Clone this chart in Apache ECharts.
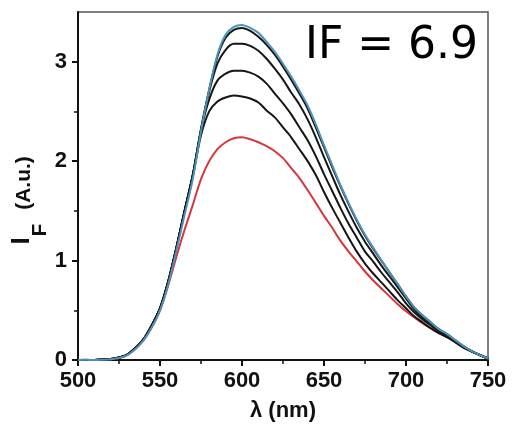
<!DOCTYPE html>
<html>
<head>
<meta charset="utf-8">
<script src="https://cdn.jsdelivr.net/npm/echarts@6/dist/echarts.min.js"></script>
<style>
  html, body { margin: 0; padding: 0; background: #fff; }
  #grafico { width: 512px; height: 427px; }
</style>
</head>
<body>
<div id="grafico"></div>
<script>
// wavelength (nm), every 5 nm
var lambda = [500, 505, 510, 515, 520, 525, 530, 535, 540, 545, 550, 555, 560, 565, 570, 575, 580, 585, 590, 595,
    600, 605, 610, 615, 620, 625, 630, 635, 640, 645, 650, 655, 660, 665, 670, 675, 680, 685, 690, 695,
    700, 705, 710, 715, 720, 725, 730, 735, 740, 745, 750];

var curvaVermelha = [0, 0.002, 0, 0.003, 0.008, 0.02, 0.05, 0.11, 0.2, 0.33, 0.5, 0.75, 1.04, 1.31, 1.56, 1.82, 2.0, 2.12, 2.19, 2.23,
    2.24, 2.22, 2.19, 2.15, 2.1, 2.03, 1.93, 1.83, 1.71, 1.58, 1.45, 1.33, 1.2, 1.09, 0.99, 0.89, 0.8, 0.72, 0.64, 0.56,
    0.49, 0.43, 0.37, 0.32, 0.27, 0.23, 0.18, 0.13, 0.09, 0.05, 0.015];

var curvaPreta3 = [0, 0.001, 0.001, 0.004, 0.01, 0.025, 0.055, 0.12, 0.21, 0.35, 0.52, 0.79, 1.13, 1.5, 1.85, 2.26, 2.5, 2.6, 2.64, 2.66,
    2.65, 2.63, 2.59, 2.51, 2.44, 2.34, 2.24, 2.12, 2.0, 1.86, 1.69, 1.53, 1.38, 1.23, 1.09, 0.97, 0.87, 0.78, 0.69, 0.6,
    0.52, 0.44, 0.38, 0.32, 0.27, 0.23, 0.18, 0.125, 0.085, 0.05, 0.015];

var curvaPreta2 = [0, 0.001, 0.001, 0.004, 0.01, 0.025, 0.055, 0.12, 0.21, 0.35, 0.52, 0.79, 1.13, 1.5, 1.86, 2.31, 2.62, 2.81, 2.88, 2.91,
    2.91, 2.89, 2.85, 2.78, 2.68, 2.58, 2.47, 2.34, 2.21, 2.05, 1.87, 1.7, 1.53, 1.37, 1.23, 1.09, 0.99, 0.88, 0.78, 0.68,
    0.57, 0.48, 0.41, 0.35, 0.29, 0.24, 0.185, 0.13, 0.087, 0.05, 0.015];

var curvaPreta1 = [0, 0.001, 0.001, 0.004, 0.01, 0.025, 0.055, 0.12, 0.21, 0.35, 0.52, 0.79, 1.13, 1.5, 1.86, 2.32, 2.7, 2.98, 3.12, 3.18,
    3.18, 3.16, 3.11, 3.03, 2.93, 2.82, 2.69, 2.57, 2.42, 2.24, 2.04, 1.85, 1.66, 1.49, 1.33, 1.19, 1.07, 0.95, 0.84, 0.73,
    0.62, 0.51, 0.43, 0.37, 0.3, 0.25, 0.19, 0.135, 0.088, 0.05, 0.015];

var curvaPreta0 = [0, 0.001, 0.001, 0.004, 0.01, 0.025, 0.055, 0.12, 0.21, 0.35, 0.52, 0.79, 1.13, 1.5, 1.86, 2.32, 2.72, 3.05, 3.24, 3.32,
    3.34, 3.31, 3.25, 3.17, 3.07, 2.95, 2.82, 2.68, 2.53, 2.34, 2.14, 1.94, 1.75, 1.57, 1.4, 1.25, 1.12, 1.0, 0.88, 0.76,
    0.64, 0.53, 0.45, 0.38, 0.31, 0.26, 0.2, 0.14, 0.09, 0.05, 0.015];

var curvaAzul = [0, 0.002, 0, 0.003, 0.008, 0.02, 0.05, 0.11, 0.2, 0.33, 0.5, 0.76, 1.1, 1.46, 1.82, 2.3, 2.72, 3.07, 3.27, 3.35,
    3.37, 3.34, 3.29, 3.2, 3.1, 2.98, 2.85, 2.71, 2.56, 2.37, 2.16, 1.96, 1.76, 1.58, 1.41, 1.26, 1.13, 1.0, 0.88, 0.76,
    0.64, 0.53, 0.45, 0.38, 0.31, 0.26, 0.2, 0.14, 0.09, 0.05, 0.015];

var ticksX = [500, 550, 600, 650, 700, 750];
var ticksY = [0, 1, 2, 3];
var ticksYmenores = [0.5, 1.5, 2.5];

function pares(valores) {
    var out = [];
    lambda.forEach(function (l, i) { out.push([l, valores[i]]); });
    return out;
}

var myChart = echarts.init(document.getElementById('grafico'));

var series_grafico = [];
var curvas = [
    { dados: curvaVermelha, cor: '#d8343c' },
    { dados: curvaPreta3, cor: '#161616' },
    { dados: curvaPreta2, cor: '#161616' },
    { dados: curvaPreta1, cor: '#161616' },
    { dados: curvaPreta0, cor: '#161616' },
    { dados: curvaAzul, cor: '#4b93bd' }
];
curvas.forEach(function (c) {
    series_grafico.push({
        type: 'line',
        showSymbol: false,
        smooth: 0.3,
        lineStyle: { color: c.cor, width: 2 },
        data: pares(c.dados)
    });
});

var fonteEixo = { fontFamily: 'Liberation Sans, Arial, sans-serif', fontWeight: 'bold', fontSize: 22, color: '#111' };

var option = {
    animation: false,
    grid: { left: 78, right: 24, top: 12, bottom: 67, show: true, borderColor: '#555', borderWidth: 1.5 },
    xAxis: {
        type: 'value',
        min: ticksX[0], max: ticksX[ticksX.length - 1], interval: 50,
        axisLine: { lineStyle: { color: '#111', width: 2 } },
        axisTick: { length: 6, lineStyle: { color: '#111', width: 2 } },
        minorTick: { show: true, splitNumber: 2, length: 4, lineStyle: { color: '#111', width: 1.5 } },
        axisLabel: Object.assign({ margin: 10 }, fonteEixo),
        splitLine: { show: false },
        name: 'λ (nm)',
        nameLocation: 'middle',
        nameGap: 40,
        nameTextStyle: { fontFamily: 'Liberation Sans, Arial, sans-serif', fontWeight: 'bold', fontSize: 22, color: '#111' }
    },
    yAxis: [{
        type: 'value',
        min: 0, max: 3.5, interval: 1,
        axisLine: { lineStyle: { color: '#111', width: 2 } },
        axisTick: { length: 6, customValues: ticksY, lineStyle: { color: '#111', width: 2 } },
        axisLabel: Object.assign({ margin: 11, customValues: ticksY }, fonteEixo),
        splitLine: { show: false }
    }, {
        // só os ticks menores
        type: 'value',
        position: 'left',
        min: 0, max: 3.5, interval: 0.5,
        axisLine: { show: false },
        axisTick: { length: 4, customValues: ticksYmenores, lineStyle: { color: '#111', width: 1.5 } },
        axisLabel: { show: false },
        splitLine: { show: false }
    }],
    graphic: [
        { type: 'text', x: 22, y: 241, rotation: Math.PI / 2,
          style: { text: 'I', font: 'bold 26px Liberation Sans, Arial, sans-serif', fill: '#111', align: 'center', verticalAlign: 'middle' } },
        { type: 'text', x: 40, y: 230, rotation: Math.PI / 2,
          style: { text: 'F', font: 'bold 21px Liberation Sans, Arial, sans-serif', fill: '#111', align: 'center', verticalAlign: 'middle' } },
        { type: 'text', x: 24, y: 183, rotation: Math.PI / 2,
          style: { text: '(A.u.)', font: 'bold 21px Liberation Sans, Arial, sans-serif', fill: '#111', align: 'center', verticalAlign: 'middle' } },
        { type: 'text', x: 478, y: 47,
          style: { text: 'IF = 6.9', font: '44px DejaVu Sans, sans-serif', fill: '#000', align: 'right', verticalAlign: 'middle' } }
    ],
    series: series_grafico
};

myChart.setOption(option);
</script>
</body>
</html>
